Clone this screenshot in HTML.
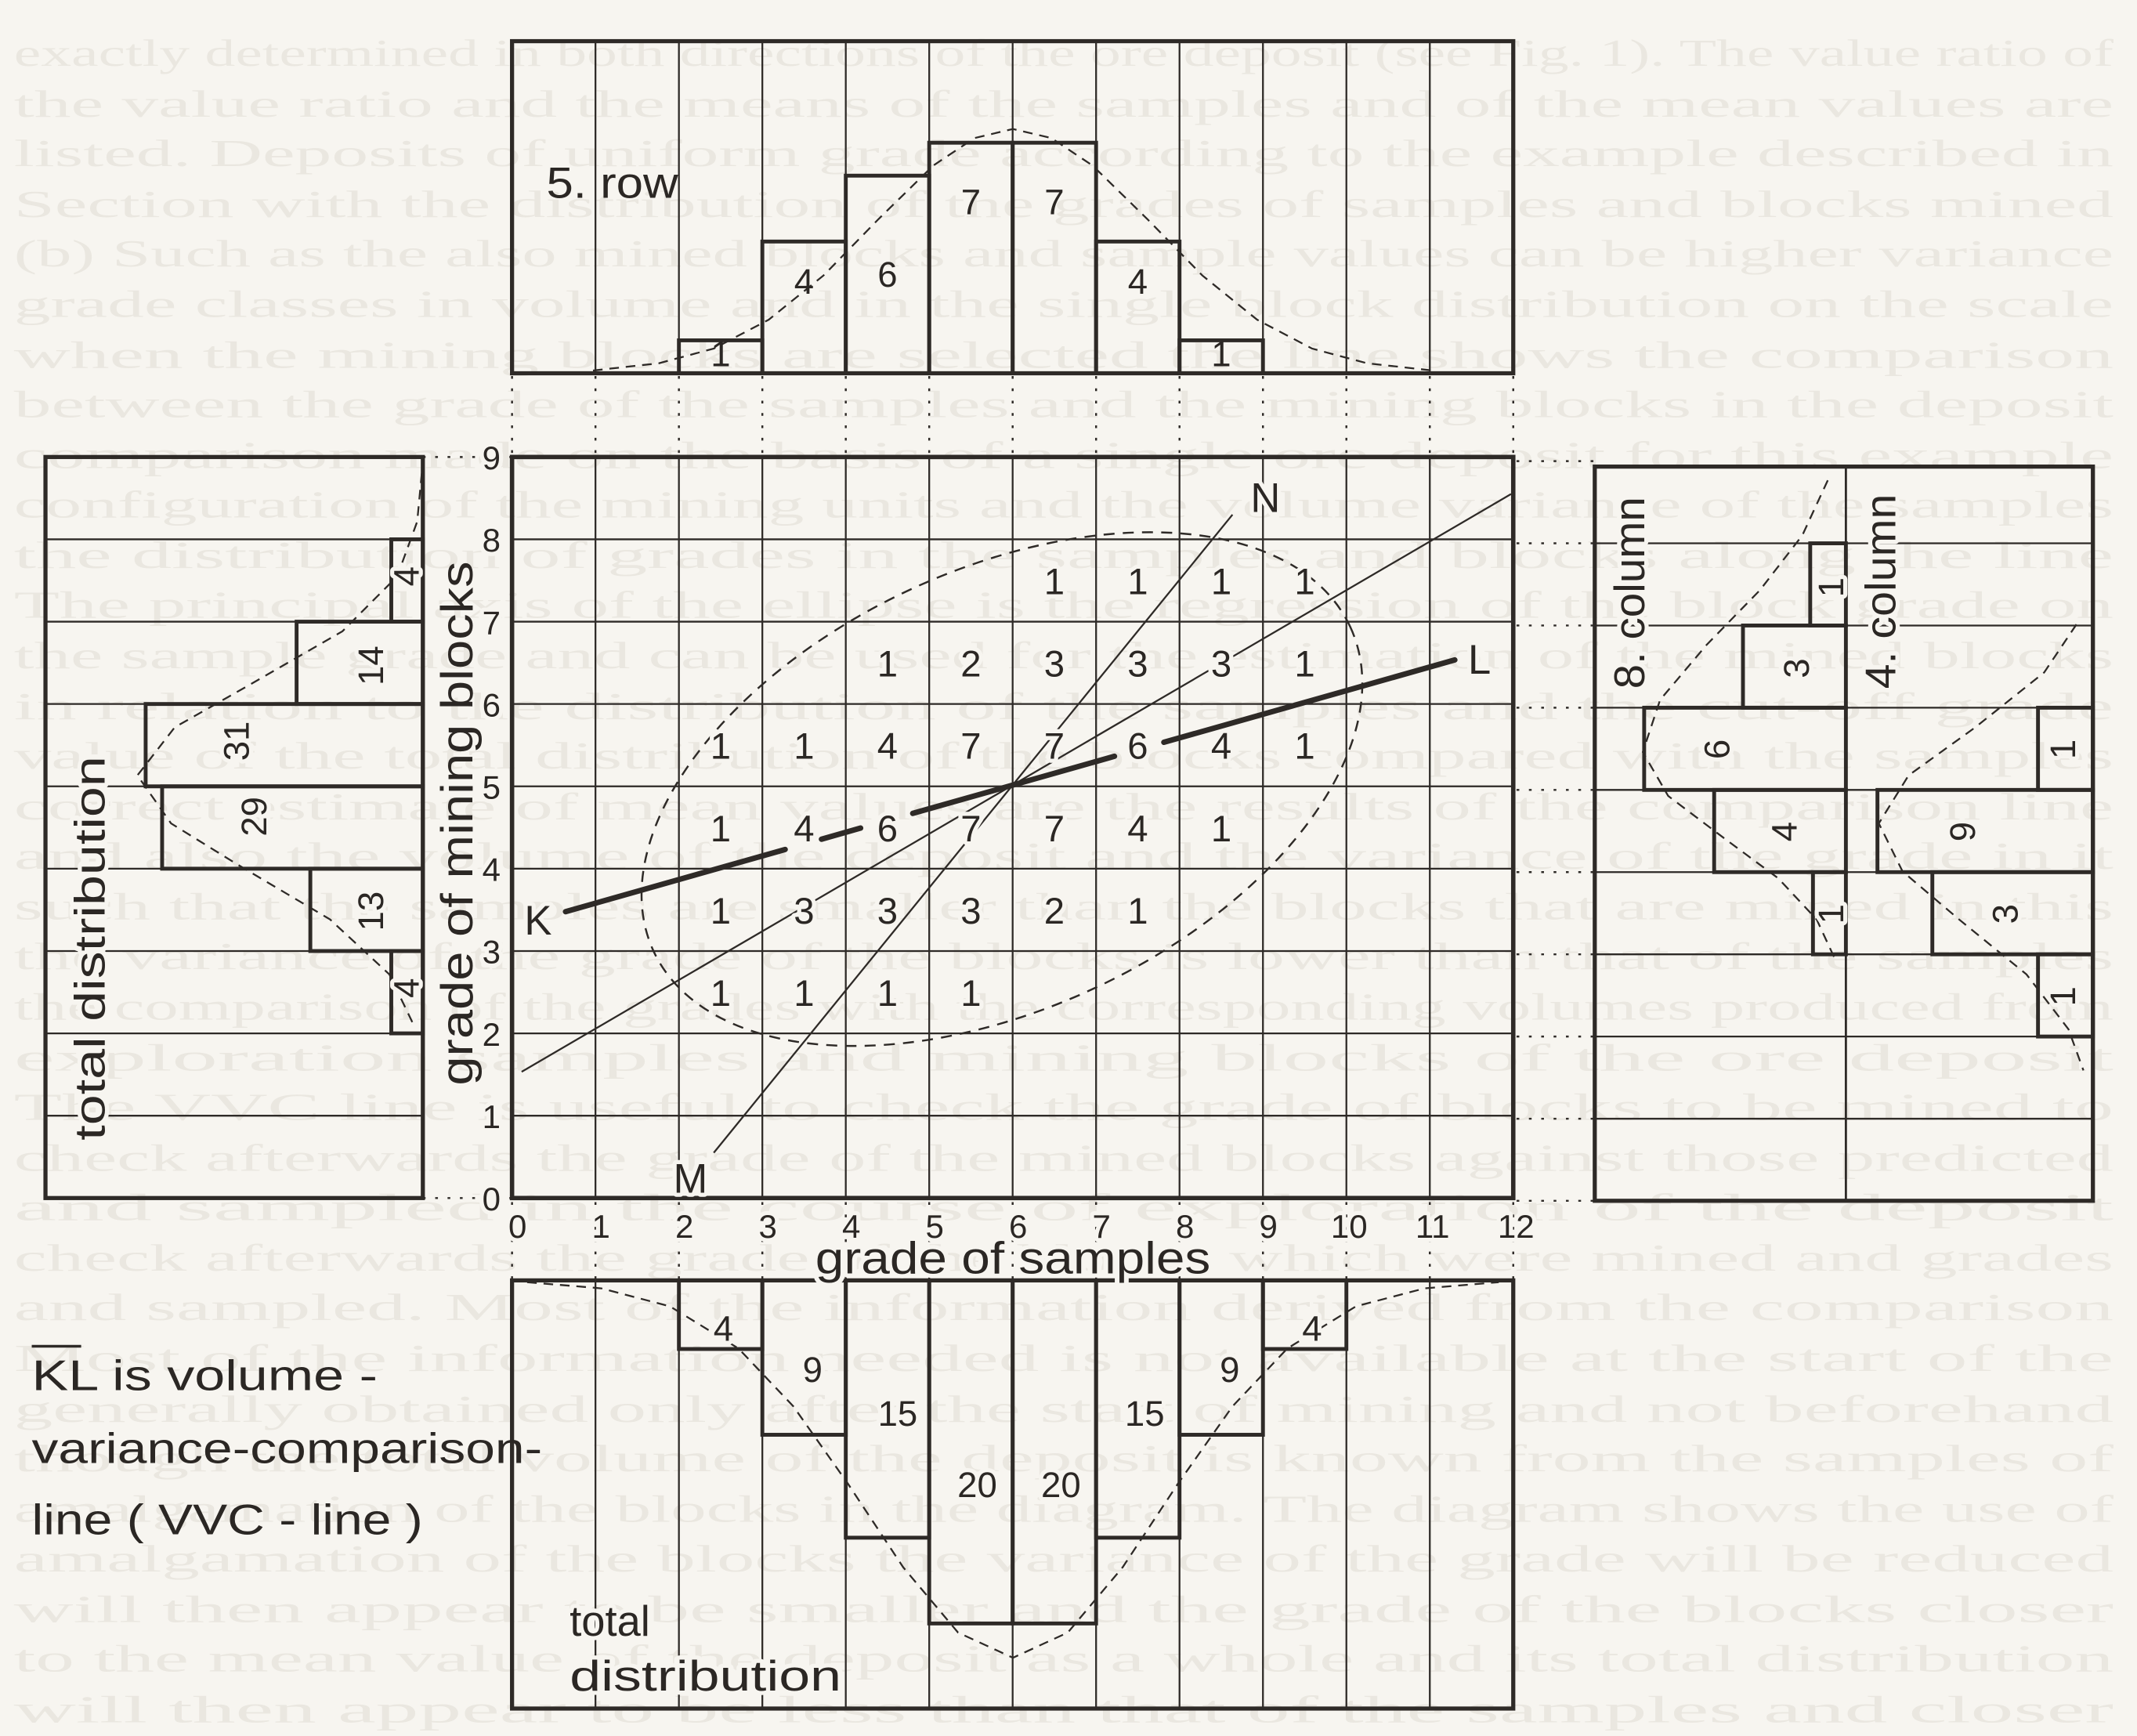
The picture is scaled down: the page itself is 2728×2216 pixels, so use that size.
<!DOCTYPE html>
<html><head><meta charset="utf-8">
<style>
html,body{margin:0;padding:0;background:#f7f5f0;}
svg{display:block;}
text{font-family:"Liberation Sans","DejaVu Sans",sans-serif;fill:#2b2724;}
.bg text{font-family:"Liberation Serif",serif;fill:#eae7e0;font-size:28px;}
.h{stroke:#f7f5f0;stroke-width:6px;paint-order:stroke;stroke-linejoin:round;}
</style></head>
<body>
<svg width="2728" height="2216" viewBox="0 0 1557 1265" xmlns="http://www.w3.org/2000/svg">
<rect x="0" y="0" width="1557" height="1265" fill="#f7f5f0"/>
<g class="bg">
<text x="10" y="48" textLength="1530" lengthAdjust="spacingAndGlyphs">exactly determined in both directions of the ore deposit (see Fig. 1). The value ratio of</text>
<text x="10" y="85" textLength="1530" lengthAdjust="spacingAndGlyphs">the value ratio and the means of the samples and of the mean values are</text>
<text x="10" y="121" textLength="1530" lengthAdjust="spacingAndGlyphs">listed. Deposits of uniform grade according to the example described in</text>
<text x="10" y="158" textLength="1530" lengthAdjust="spacingAndGlyphs">Section with the distribution of the grades of samples and blocks mined</text>
<text x="10" y="194" textLength="1530" lengthAdjust="spacingAndGlyphs">(b) Such as the also mined blocks and sample values can be higher variance</text>
<text x="10" y="231" textLength="1530" lengthAdjust="spacingAndGlyphs">grade classes in volume and in the single block distribution on the scale</text>
<text x="10" y="268" textLength="1530" lengthAdjust="spacingAndGlyphs">when the mining blocks are selected the line shows the comparison</text>
<text x="10" y="304" textLength="1530" lengthAdjust="spacingAndGlyphs">between the grade of the samples and the mining blocks in the deposit</text>
<text x="10" y="341" textLength="1530" lengthAdjust="spacingAndGlyphs">comparison made on the basis of a single ore deposit for this example</text>
<text x="10" y="377" textLength="1530" lengthAdjust="spacingAndGlyphs">configuration of the mining units and the volume variance of the samples</text>
<text x="10" y="414" textLength="1530" lengthAdjust="spacingAndGlyphs">the distribution of grades in the samples and blocks along the line</text>
<text x="10" y="450" textLength="1530" lengthAdjust="spacingAndGlyphs">The principal axis of the ellipse is the regression of the block grade on</text>
<text x="10" y="487" textLength="1530" lengthAdjust="spacingAndGlyphs">the sample grade and can be used for the estimation of the mined blocks</text>
<text x="10" y="524" textLength="1530" lengthAdjust="spacingAndGlyphs">in relation to the distribution of the samples and the cut-off grade</text>
<text x="10" y="560" textLength="1530" lengthAdjust="spacingAndGlyphs">value of the total distribution of the blocks compared with the samples</text>
<text x="10" y="597" textLength="1530" lengthAdjust="spacingAndGlyphs">correct estimate of mean values are the results of the comparison line</text>
<text x="10" y="633" textLength="1530" lengthAdjust="spacingAndGlyphs">and also the volume of the deposit and the variance of the grade in it</text>
<text x="10" y="670" textLength="1530" lengthAdjust="spacingAndGlyphs">such that the samples are smaller than the blocks that are mined in this</text>
<text x="10" y="706" textLength="1530" lengthAdjust="spacingAndGlyphs">the variance of the grade of the blocks is lower than that of the samples</text>
<text x="10" y="743" textLength="1530" lengthAdjust="spacingAndGlyphs">the comparison of the grades with the corresponding volumes produced from</text>
<text x="10" y="780" textLength="1530" lengthAdjust="spacingAndGlyphs">exploration samples and mining blocks of the ore deposit</text>
<text x="10" y="816" textLength="1530" lengthAdjust="spacingAndGlyphs">The VVC line is useful to check the grade of blocks to be mined to</text>
<text x="10" y="853" textLength="1530" lengthAdjust="spacingAndGlyphs">check afterwards the grade of the mined blocks against those predicted</text>
<text x="10" y="889" textLength="1530" lengthAdjust="spacingAndGlyphs">and sampled in the course of exploration of the deposit</text>
<text x="10" y="926" textLength="1530" lengthAdjust="spacingAndGlyphs">check afterwards the grade of the blocks which were mined and grades</text>
<text x="10" y="962" textLength="1530" lengthAdjust="spacingAndGlyphs">and sampled. Most of the information derived from the comparison</text>
<text x="10" y="999" textLength="1530" lengthAdjust="spacingAndGlyphs">Most of the information needed is not available at the start of the</text>
<text x="10" y="1036" textLength="1530" lengthAdjust="spacingAndGlyphs">generally obtained only after the start of mining and not beforehand</text>
<text x="10" y="1072" textLength="1530" lengthAdjust="spacingAndGlyphs">though the total volume of the deposit is known from the samples of</text>
<text x="10" y="1109" textLength="1530" lengthAdjust="spacingAndGlyphs">amalgamation of the blocks in the diagram. The diagram shows the use of</text>
<text x="10" y="1145" textLength="1530" lengthAdjust="spacingAndGlyphs">amalgamation of the blocks the variance of the grade will be reduced</text>
<text x="10" y="1182" textLength="1530" lengthAdjust="spacingAndGlyphs">will then appear to be smaller and the grade of the blocks closer</text>
<text x="10" y="1218" textLength="1530" lengthAdjust="spacingAndGlyphs">to the mean value of the deposit as a whole and its total distribution</text>
<text x="10" y="1255" textLength="1530" lengthAdjust="spacingAndGlyphs">will then appear to be less than that of the samples and closer</text>
</g>

<g fill="none" stroke="#2e2a27">
<path stroke-width="1.3" d="M433.8,333V873M494.6,333V873M555.4,333V873M616.2,333V873M677,333V873M737.8,333V873M798.6,333V873M859.4,333V873M920.2,333V873M981,333V873M1041.8,333V873
M373,393H1102.6M373,453H1102.6M373,513H1102.6M373,573H1102.6M373,633H1102.6M373,693H1102.6M373,753H1102.6M373,813H1102.6"/>
<rect x="373" y="333" width="729.6" height="540" stroke-width="3.2"/>

<path stroke-width="1.4" stroke-dasharray="2 7" d="M373,274V333M433.8,274V333M494.6,274V333M555.4,274V333M616.2,274V333M677,274V333M737.8,274V333M798.6,274V333M859.4,274V333M920.2,274V333M981,274V333M1041.8,274V333M1102.6,274V333
M373,876V933M433.8,876V933M494.6,876V933M555.4,876V933M616.2,876V933M677,876V933M737.8,876V933M798.6,876V933M859.4,876V933M920.2,876V933M981,876V933M1041.8,876V933M1102.6,876V933
M308,333H373M308,873H373
M1105,336H1162M1105,395.9H1162M1105,455.8H1162M1105,515.7H1162M1105,575.6H1162M1105,635.5H1162M1105,695.4H1162M1105,755.3H1162M1105,815.2H1162M1105,875H1162"/>

<path stroke-width="1.3" d="M433.8,30V272M494.6,30V272M555.4,30V272M616.2,30V272M677,30V272M737.8,30V272M798.6,30V272M859.4,30V272M920.2,30V272M981,30V272M1041.8,30V272"/>
<rect x="373" y="30" width="729.6" height="242" stroke-width="3"/>
<g stroke-width="2.8">
<rect x="494.6" y="248" width="60.8" height="24"/>
<rect x="555.4" y="176" width="60.8" height="96"/>
<rect x="616.2" y="128" width="60.8" height="144"/>
<rect x="677" y="104" width="60.8" height="168"/>
<rect x="737.8" y="104" width="60.8" height="168"/>
<rect x="798.6" y="176" width="60.8" height="96"/>
<rect x="859.4" y="248" width="60.8" height="24"/>
</g>
<polyline stroke-width="1.3" stroke-dasharray="7 5" points="432,270 480,264.7 520,254 560,233 600,200.7 640,159.7 680,120.6 710,100.6 738,94 766,100.6 796,120.6 836,159.7 876,200.7 916,233 956,254 996,264.7 1044,270"/>

<path stroke-width="1.3" d="M433.8,933V1245M494.6,933V1245M555.4,933V1245M616.2,933V1245M677,933V1245M737.8,933V1245M798.6,933V1245M859.4,933V1245M920.2,933V1245M981,933V1245M1041.8,933V1245"/>
<rect x="373" y="933" width="729.6" height="312" stroke-width="3"/>
<g stroke-width="2.8">
<rect x="494.6" y="933" width="60.8" height="50"/>
<rect x="555.4" y="933" width="60.8" height="112.5"/>
<rect x="616.2" y="933" width="60.8" height="187.5"/>
<rect x="677" y="933" width="60.8" height="250"/>
<rect x="737.8" y="933" width="60.8" height="250"/>
<rect x="798.6" y="933" width="60.8" height="187.5"/>
<rect x="859.4" y="933" width="60.8" height="112.5"/>
<rect x="920.2" y="933" width="60.8" height="50"/>
</g>
<polyline stroke-width="1.3" stroke-dasharray="7 5" points="384,934.3 438,938.8 488,951.9 538,982.6 578,1024.8 618,1081.5 658,1142 698,1189.6 738,1208 778,1189.6 818,1142 858,1081.5 898,1024.8 938,982.6 988,951.9 1038,938.8 1092,934.3"/>

<path stroke-width="1.3" d="M33,393H308M33,453H308M33,513H308M33,573H308M33,633H308M33,693H308M33,753H308M33,813H308"/>
<rect x="33" y="333" width="275" height="540" stroke-width="3"/>
<g stroke-width="2.8">
<rect x="285" y="393" width="23" height="60"/>
<rect x="216" y="453" width="92" height="60"/>
<rect x="106" y="513" width="202" height="60"/>
<rect x="118" y="573" width="190" height="60"/>
<rect x="226" y="633" width="82" height="60"/>
<rect x="285" y="693" width="23" height="60"/>
</g>
<polyline stroke-width="1.3" stroke-dasharray="7 5" points="307.2,345 303.9,380 289.3,420 249.4,460 180,500 127.2,530 100,565 124.5,600 173,630 240.4,670 283.6,710 300.4,745"/>

<path stroke-width="1.3" d="M1162,395.9H1525M1162,455.8H1525M1162,515.7H1525M1162,575.6H1525M1162,635.5H1525M1162,695.4H1525M1162,755.3H1525M1162,815.2H1525"/>
<path stroke-width="1.6" d="M1345,340V875"/>
<rect x="1162" y="340" width="363" height="535" stroke-width="3"/>
<g stroke-width="2.8">
<rect x="1319" y="395.9" width="26" height="59.9"/>
<rect x="1270" y="455.8" width="75" height="59.9"/>
<rect x="1198" y="515.7" width="147" height="59.9"/>
<rect x="1249" y="575.6" width="96" height="59.9"/>
<rect x="1321" y="635.5" width="24" height="59.9"/>
<rect x="1485" y="515.7" width="40" height="59.9"/>
<rect x="1368" y="575.6" width="157" height="59.9"/>
<rect x="1408" y="635.5" width="117" height="59.9"/>
<rect x="1485" y="695.4" width="40" height="59.9"/>
</g>
<polyline stroke-width="1.3" stroke-dasharray="7 5" points="1331.8,350 1313.3,390 1282.4,430 1243.4,470 1209.6,510 1197,548 1215.5,580 1255.2,610 1295.7,640 1323.7,670 1337.6,700"/>
<polyline stroke-width="1.3" stroke-dasharray="7 5" points="1513,455 1489.5,490 1439.3,530 1390.7,565 1369,600 1386.3,635 1427.5,670 1476.6,710 1507.2,750 1518.1,780"/>

<ellipse cx="730" cy="575" rx="280" ry="160" transform="rotate(-25 730 575)" stroke-width="1.4" stroke-dasharray="8 6"/>
<line x1="380" y1="781" x2="1101" y2="360" stroke-width="1.3"/>
<line x1="520" y1="840" x2="898" y2="375" stroke-width="1.3"/>
<g stroke-width="4" stroke-linecap="round">
<line x1="412" y1="664.3" x2="572" y2="619"/>
<line x1="598.5" y1="611.5" x2="627" y2="603.4"/>
<line x1="665" y1="592.7" x2="812" y2="551.1"/>
<line x1="848" y1="540.9" x2="1060" y2="480.9"/>
</g>
<line x1="23" y1="981" x2="59" y2="981" stroke-width="2"/>
</g>

<g text-anchor="middle">
<text x="0" y="0" font-size="33" transform="translate(344,600) rotate(-90)" textLength="382" lengthAdjust="spacingAndGlyphs">grade of mining blocks</text>
<g font-size="27">
<text x="768.2" y="433" class="h">1</text><text x="829" y="433" class="h">1</text><text x="889.8" y="433" class="h">1</text><text x="950.6" y="433" class="h">1</text>
<text x="646.6" y="493" class="h">1</text><text x="707.4" y="493" class="h">2</text><text x="768.2" y="493" class="h">3</text><text x="829" y="493" class="h">3</text><text x="889.8" y="493" class="h">3</text><text x="950.6" y="493" class="h">1</text>
<text x="525" y="553" class="h">1</text><text x="585.8" y="553" class="h">1</text><text x="646.6" y="553" class="h">4</text><text x="707.4" y="553" class="h">7</text><text x="768.2" y="553" class="h">7</text><text x="829" y="553" class="h">6</text><text x="889.8" y="553" class="h">4</text><text x="950.6" y="553" class="h">1</text>
<text x="525" y="613" class="h">1</text><text x="585.8" y="613" class="h">4</text><text x="646.6" y="613" class="h">6</text><text x="707.4" y="613" class="h">7</text><text x="768.2" y="613" class="h">7</text><text x="829" y="613" class="h">4</text><text x="889.8" y="613" class="h">1</text>
<text x="525" y="673" class="h">1</text><text x="585.8" y="673" class="h">3</text><text x="646.6" y="673" class="h">3</text><text x="707.4" y="673" class="h">3</text><text x="768.2" y="673" class="h">2</text><text x="829" y="673" class="h">1</text>
<text x="525" y="733" class="h">1</text><text x="585.8" y="733" class="h">1</text><text x="646.6" y="733" class="h">1</text><text x="707.4" y="733" class="h">1</text>
</g>
<g font-size="30">
<text x="392" y="681" class="h">K</text><text x="1078" y="491" class="h">L</text>
<text x="922" y="373" class="h">N</text><text x="503" y="869" class="h">M</text>
</g>
<g font-size="24">
<text x="358" y="342" class="h">9</text><text x="358" y="402" class="h">8</text><text x="358" y="462" class="h">7</text><text x="358" y="522" class="h">6</text><text x="358" y="582" class="h">5</text><text x="358" y="642" class="h">4</text><text x="358" y="702" class="h">3</text><text x="358" y="762" class="h">2</text><text x="358" y="822" class="h">1</text><text x="358" y="882" class="h">0</text>
</g>
<g font-size="24">
<text x="377" y="902" class="h">0</text><text x="437.8" y="902" class="h">1</text><text x="498.6" y="902" class="h">2</text><text x="559.4" y="902" class="h">3</text><text x="620.2" y="902" class="h">4</text><text x="681" y="902" class="h">5</text><text x="741.8" y="902" class="h">6</text><text x="802.6" y="902" class="h">7</text><text x="863.4" y="902" class="h">8</text><text x="924.2" y="902" class="h">9</text><text x="983" y="902" class="h">10</text><text x="1043.8" y="902" class="h">11</text><text x="1104.6" y="902" class="h">12</text>
</g>
<text x="738" y="928" font-size="33" class="h" textLength="288" lengthAdjust="spacingAndGlyphs">grade of samples</text>
<text x="0" y="0" font-size="31" class="h" transform="translate(76,691) rotate(-90)" textLength="280" lengthAdjust="spacingAndGlyphs">total distribution</text>
<text x="0" y="0" font-size="31" class="h" transform="translate(1198,432) rotate(-90)" textLength="140" lengthAdjust="spacingAndGlyphs">8. column</text>
<text x="0" y="0" font-size="31" class="h" transform="translate(1381,431) rotate(-90)" textLength="142" lengthAdjust="spacingAndGlyphs">4. column</text>
<text x="446" y="144" font-size="32" textLength="96" lengthAdjust="spacingAndGlyphs">5. row</text>
<g font-size="26">
<text x="525" y="267">1</text><text x="585.8" y="214">4</text><text x="646.6" y="209">6</text><text x="707.4" y="156">7</text><text x="768.2" y="156">7</text><text x="829" y="214">4</text><text x="889.8" y="267">1</text>
</g>
<g font-size="26">
<text x="527" y="977" class="h">4</text><text x="592" y="1007" class="h">9</text><text x="654" y="1039" class="h">15</text><text x="712" y="1091" class="h">20</text><text x="773" y="1091" class="h">20</text><text x="834" y="1039" class="h">15</text><text x="896" y="1007" class="h">9</text><text x="956" y="977" class="h">4</text>
</g>
<g font-size="26">
<text x="0" y="0" class="h" transform="translate(305,420) rotate(-90)">4</text>
<text x="0" y="0" class="h" transform="translate(279,485) rotate(-90)">14</text>
<text x="0" y="0" class="h" transform="translate(181,540) rotate(-90)">31</text>
<text x="0" y="0" class="h" transform="translate(194,595) rotate(-90)">29</text>
<text x="0" y="0" class="h" transform="translate(279,664) rotate(-90)">13</text>
<text x="0" y="0" class="h" transform="translate(305,720) rotate(-90)">4</text>
</g>
<g font-size="26">
<text x="0" y="0" class="h" transform="translate(1343,428) rotate(-90)">1</text>
<text x="0" y="0" class="h" transform="translate(1318,487) rotate(-90)">3</text>
<text x="0" y="0" class="h" transform="translate(1260,546) rotate(-90)">6</text>
<text x="0" y="0" class="h" transform="translate(1309,606) rotate(-90)">4</text>
<text x="0" y="0" class="h" transform="translate(1343,666) rotate(-90)">1</text>
<text x="0" y="0" class="h" transform="translate(1512,546) rotate(-90)">1</text>
<text x="0" y="0" class="h" transform="translate(1439,606) rotate(-90)">9</text>
<text x="0" y="0" class="h" transform="translate(1470,666) rotate(-90)">3</text>
<text x="0" y="0" class="h" transform="translate(1512,726) rotate(-90)">1</text>
</g>
</g>
<text x="415" y="1192" font-size="31" class="h">total</text>
<text x="415" y="1232" font-size="31" class="h" textLength="198" lengthAdjust="spacingAndGlyphs">distribution</text>
<text x="23" y="1013" font-size="31" textLength="252" lengthAdjust="spacingAndGlyphs">KL is volume -</text>
<text x="23" y="1066" font-size="31" textLength="372" lengthAdjust="spacingAndGlyphs">variance-comparison-</text>
<text x="23" y="1118" font-size="31" textLength="285" lengthAdjust="spacingAndGlyphs">line ( VVC - line )</text>
</svg>
</body></html>
